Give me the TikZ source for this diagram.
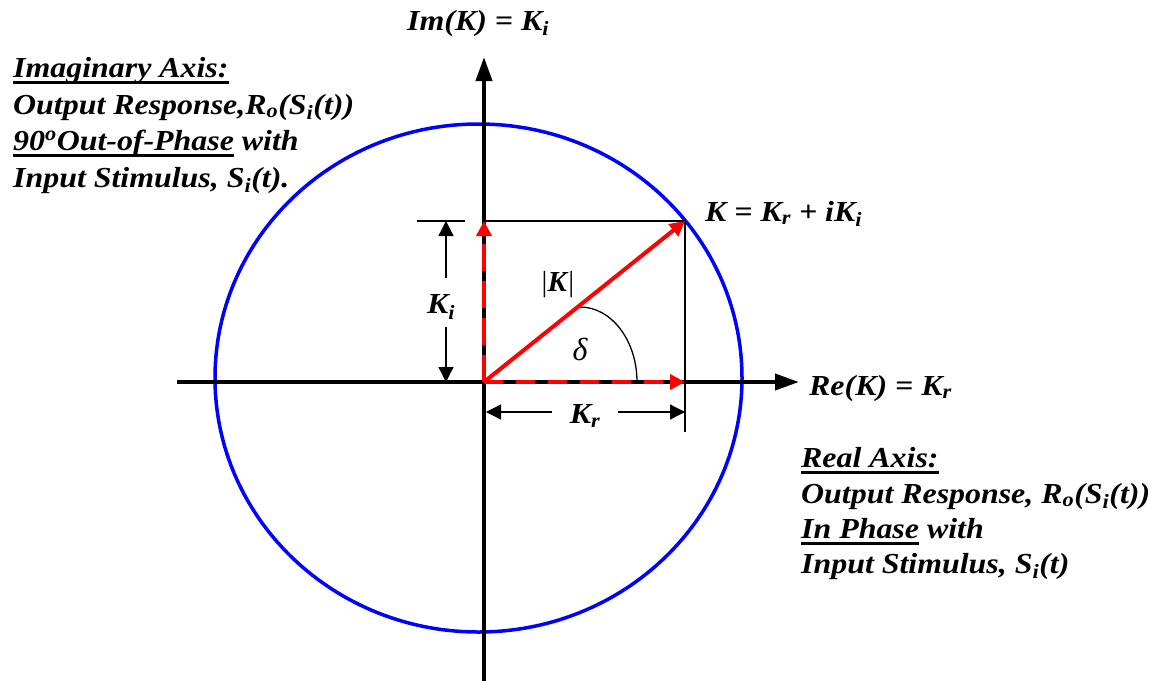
\documentclass[tikz,border=0pt]{standalone}
\usepackage{fontspec}
\setmainfont{Liberation Serif}
\newfontfamily\labfont[FakeStretch=1.1]{Liberation Serif}
\usetikzlibrary{arrows.meta}
\newsavebox\ulbox
\newcommand\myul[1]{\sbox\ulbox{#1}\rlap{\rule[-7pt]{\wd\ulbox}{2.8pt}}\usebox\ulbox}
\newcommand\sub[1]{\textsubscript{#1}}
\tikzset{
  txt/.style={font=\labfont\fontsize{29}{34}\selectfont\bfseries\itshape, inner sep=0pt, anchor=base west},
  lbl/.style={font=\labfont\fontsize{29}{34}\selectfont\bfseries\itshape, inner sep=0pt},
  axis/.style={line width=4pt, -{Triangle[length=24pt,width=16pt]}},
  thin/.style={line width=1.3pt},
  dim/.style={line width=1.3pt, -{Triangle[length=15pt,width=15pt]}},
  vec/.style={red, line width=4pt, -{Triangle[length=15pt,width=15pt]}},
  circ/.style={blue, line width=3.5pt}
}
\begin{document}
\begin{tikzpicture}[x=1pt,y=-1pt]
\useasboundingbox (0,0) rectangle (1154,681);
% coordinates
\coordinate (O) at (484,382);
\coordinate (P) at (685,221);
\coordinate (Px) at (685,382);
\coordinate (Py) at (484,221);
\coordinate (xl) at (177,382);
\coordinate (xr) at (799,382);
\coordinate (yb) at (484,681);
\coordinate (yt) at (484,57);
% circle
\draw[circ] (478.5,378) ellipse [x radius=263.5, y radius=254];
% axes
\draw[axis] (xl) -- (xr);
\draw[axis] (yb) -- (yt);
% thin projection lines
\coordinate (Pbot) at (685,432);
\coordinate (tickl) at (417,221);
\coordinate (tickr) at (465,221);
\draw[thin] (Py) -- (P) -- (Pbot);
\draw[thin] (tickl) -- (tickr);
% Ki dimension
\coordinate (kitop) at (446,221);
\coordinate (kibot) at (446,382);
\node[lbl] (ki) at (441,307) {K\sub{i}};
\coordinate (kig1) at (446,278);
\coordinate (kig2) at (446,327);
\draw[dim] (kig1) -- (kitop);
\draw[dim] (kig2) -- (kibot);
% Kr dimension
\coordinate (krl) at (486,412);
\coordinate (krr) at (685,412);
\node[lbl] (kr) at (585,416) {K\sub{r}};
\coordinate (krg1) at (552,412);
\coordinate (krg2) at (618,412);
\draw[dim] (krg1) -- (krl);
\draw[dim] (krg2) -- (krr);
% angle arc
\coordinate (a1) at (580,307);
\draw[line width=1.3pt] (a1) arc[start angle=90, end angle=0, x radius=57, y radius=-75];
\node[font=\fontsize{32}{34}\selectfont\itshape, inner sep=0pt] (delta) at (580,349) {δ};
\node[font=\fontsize{29}{34}\selectfont, inner sep=0pt] (absk) at (558,285) {|\textbf{\textit{K}}|};
% red vectors
\draw[vec, dash pattern=on 19pt off 13pt] (O) -- (Px);
\draw[vec, dash pattern=on 27pt off 10pt] (O) -- (Py);
\draw[vec] (O) -- (P);
% labels
\node[txt] (imk) at (407,30) {Im(K) = K\sub{i}};
\node[txt] (rek) at (809,395) {Re(K) = K\sub{r}};
\node[txt] (keq) at (705,221) {K = K\sub{r} + iK\sub{i}};
% left block
\node[txt] (l1) at (13,77) {\myul{Imaginary Axis:}};
\node[txt] (l2) at (13,114) {Output Response,R\sub{o}(S\sub{i}(t))};
\node[txt] (l3) at (13,150) {\myul{90\textsuperscript{o}Out-of-Phase} with};
\node[txt] (l4) at (13,187) {Input Stimulus, S\sub{i}(t).};
% right block
\node[txt] (r1) at (801,467) {\myul{Real Axis:}};
\node[txt] (r2) at (801,503) {Output Response, R\sub{o}(S\sub{i}(t))};
\node[txt] (r3) at (801,538) {\myul{In Phase} with};
\node[txt] (r4) at (801,573) {Input Stimulus, S\sub{i}(t)};
\end{tikzpicture}
\end{document}
